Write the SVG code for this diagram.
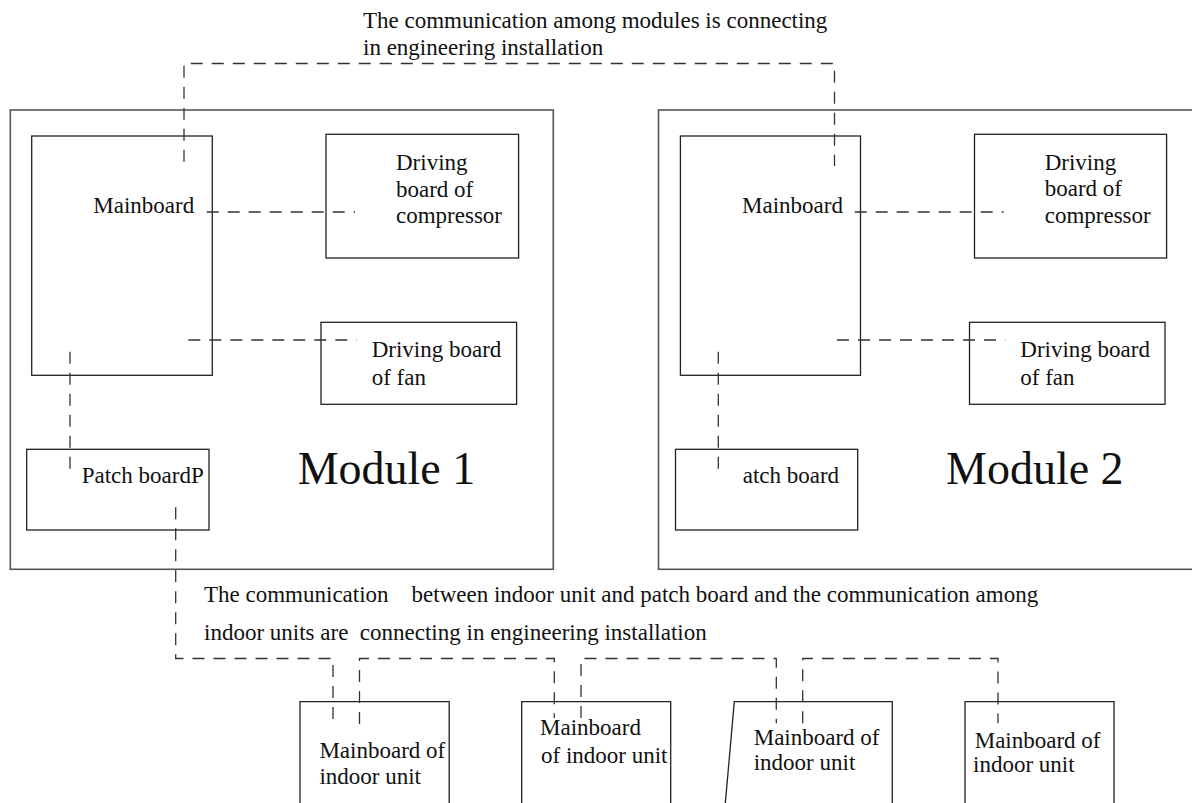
<svg xmlns="http://www.w3.org/2000/svg" width="1192" height="803" viewBox="0 0 1192 803">
<style>
  text { font-family: "Liberation Serif", "Times New Roman", serif; font-size: 23px; fill: #111; }
  .big { font-size: 46px; }
  .module { fill: none; stroke: #555; stroke-width: 1.6; }
  .box { fill: none; stroke: #222; stroke-width: 1.3; }
  .dash { fill: none; stroke: #333; stroke-width: 1.3; stroke-dasharray: 12 9; }
</style>
<rect width="1192" height="803" fill="#fff"/>

<g id="module1">
  <rect class="module" x="10.3" y="110" width="543" height="459.3"/>
  <text class="big" x="297.7" y="484">Module 1</text>
</g>
<g id="module2">
  <rect class="module" x="658.5" y="110" width="540" height="459.3"/>
  <text class="big" x="946" y="484">Module 2</text>
</g>

<g id="mainboard1">
  <rect class="box" x="31.7" y="136" width="180.6" height="239.3"/>
  <text x="93.3" y="212.7">Mainboard</text>
</g>
<g id="compressor1">
  <rect class="box" x="326" y="134.3" width="192.6" height="123.7"/>
  <text x="396" y="170">Driving</text>
  <text x="396" y="196.7">board of</text>
  <text x="396" y="223.3">compressor</text>
</g>
<g id="fan1">
  <rect class="box" x="321" y="322.3" width="195.6" height="82"/>
  <text x="371.7" y="356.7">Driving board</text>
  <text x="371.7" y="384.5">of fan</text>
</g>
<g id="patch1">
  <rect class="box" x="26.7" y="449.3" width="182.3" height="80.7"/>
  <text x="81.7" y="482.7">Patch boardP</text>
</g>

<g id="mainboard2">
  <rect class="box" x="680.4" y="136" width="180.1" height="239.3"/>
  <text x="742" y="212.7">Mainboard</text>
</g>
<g id="compressor2">
  <rect class="box" x="974.5" y="134.3" width="192.1" height="123.7"/>
  <text x="1044.7" y="169.5">Driving</text>
  <text x="1044.7" y="196.3">board of</text>
  <text x="1044.7" y="223">compressor</text>
</g>
<g id="fan2">
  <rect class="box" x="969.5" y="322.3" width="195.5" height="82"/>
  <text x="1020.3" y="356.7">Driving board</text>
  <text x="1020.3" y="384.5">of fan</text>
</g>
<g id="patch2">
  <rect class="box" x="675.5" y="449.3" width="182.2" height="80.7"/>
  <text x="742.7" y="482.7">atch board</text>
</g>

<g id="indoor1">
  <path class="box" d="M300,810 V701.7 H449.2 V810"/>
  <text x="319.4" y="758">Mainboard of</text>
  <text x="319.4" y="784">indoor unit</text>
</g>
<g id="indoor2">
  <path class="box" d="M521.7,810 V701.7 H670.7 V810"/>
  <text x="540" y="735">Mainboard</text>
  <text x="541" y="763">of indoor unit</text>
</g>
<g id="indoor3">
  <path class="box" d="M724.7,810 L734.3,701.7 H892.3 V810"/>
  <text x="753.7" y="745">Mainboard of</text>
  <text x="753.7" y="770">indoor unit</text>
</g>
<g id="indoor4">
  <path class="box" d="M965,810 V701.7 H1114 V810"/>
  <text x="974.7" y="748.3">Mainboard of</text>
  <text x="973" y="772">indoor unit</text>
</g>

<g id="labels">
  <text x="363" y="28">The communication among modules is connecting</text>
  <text x="363" y="54.5">in engineering installation</text>
  <text x="204" y="601.7" xml:space="preserve">The communication    between indoor unit and patch board and the communication among</text>
  <text x="204" y="640" xml:space="preserve">indoor units are  connecting in engineering installation</text>
</g>

<g id="connectors">
  <path class="dash" d="M184,161.7 V63.5 H834.5 V166"/>
  <path class="dash" d="M206.7,212 H355"/>
  <path class="dash" d="M188.3,340 H356.7"/>
  <path class="dash" d="M70,351.7 V475"/>
  <path class="dash" d="M854.7,212 H1003.7"/>
  <path class="dash" d="M837,340 H1005.3"/>
  <path class="dash" d="M718.3,351.7 V474"/>
  <path class="dash" d="M175.7,507.3 V658.5 H333 V724"/>
  <path class="dash" d="M359.5,724 V658.5 H554.3 V718"/>
  <path class="dash" d="M581,718 V658.5 H776.3 V723.3"/>
  <path class="dash" d="M802.7,723.3 V658.5 H998 V723.3"/>
</g>
</svg>
